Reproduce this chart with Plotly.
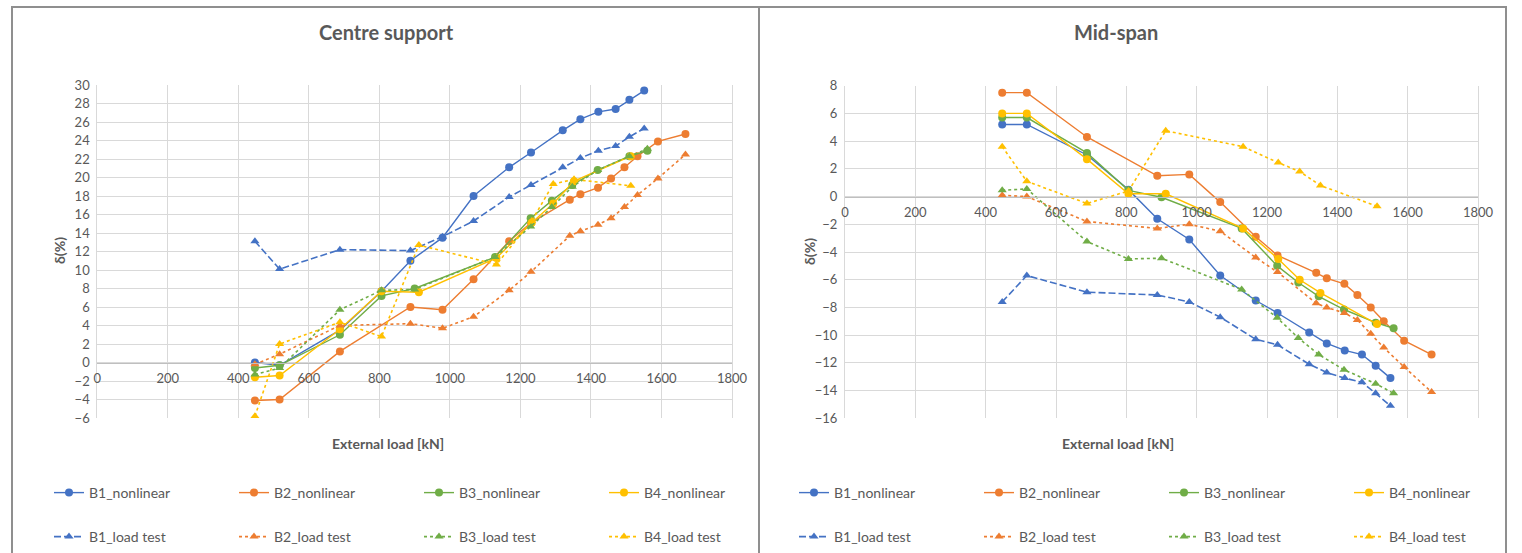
import plotly.graph_objects as go

# ---------------- data ----------------
# External load [kN] for each beam / series
b1_nl_load = [447, 517, 688, 806, 888, 979, 1067, 1168, 1230, 1320, 1370, 1421, 1470, 1509, 1551]
b1_lt_load = [447, 517, 688, 888, 979, 1067, 1168, 1230, 1320, 1370, 1421, 1470, 1509, 1551]
b2_load = [447, 517, 688, 888, 979, 1067, 1168, 1230, 1340, 1370, 1420, 1457, 1495, 1532, 1590, 1668]
b3_load = [447, 517, 688, 806, 900, 1128, 1229, 1289, 1347, 1419, 1509, 1560]
b4_load = [447, 517, 688, 806, 912, 1132, 1232, 1293, 1352, 1513]

# delta [%] at the centre support
b1_nl_support = [0.0, -0.3, 3.5, 7.7, 11.0, 13.5, 18.0, 21.1, 22.7, 25.1, 26.3, 27.1, 27.4, 28.4, 29.4]
b2_nl_support = [-4.1, -4.0, 1.2, 6.0, 5.7, 9.0, 13.1, 15.1, 17.6, 18.2, 18.9, 19.9, 21.1, 22.3, 23.9, 24.7]
b3_nl_support = [-0.6, -0.3, 3.0, 7.2, 8.0, 11.4, 15.6, 17.5, 19.2, 20.8, 22.3, 22.9]
b4_nl_support = [-1.6, -1.4, 3.6, 7.7, 7.6, 11.3, 15.1, 17.2, 19.6, 22.3]
b1_lt_support = [13.1, 10.1, 12.2, 12.1, 13.6, 15.3, 17.9, 19.2, 21.1, 22.1, 22.9, 23.4, 24.4, 25.3]
b2_lt_support = [-0.2, 0.9, 4.0, 4.2, 3.7, 4.95, 7.8, 9.8, 13.7, 14.2, 14.9, 15.6, 16.8, 18.1, 19.9, 22.5]
b3_lt_support = [-1.3, -0.6, 5.7, 7.8, 7.9, 11.4, 14.7, 16.8, 19.0, 20.8, 22.3, 23.1]
b4_lt_support = [-5.8, 2.0, 4.35, 2.8, 12.7, 10.6, 15.3, 19.3, 19.8, 19.1]

# delta [%] at mid-span
b1_nl_mid = [5.2, 5.2, 3.0, 0.5, -1.6, -3.1, -5.7, -7.5, -8.4, -9.8, -10.6, -11.1, -11.4, -12.2, -13.1]
b2_nl_mid = [7.5, 7.5, 4.3, 1.5, 1.6, -0.4, -2.9, -4.25, -5.5, -5.9, -6.3, -7.1, -8.0, -9.0, -10.4, -11.4]
b3_nl_mid = [5.7, 5.7, 3.15, 0.45, -0.05, -2.3, -5.0, -6.2, -7.2, -8.15, -9.1, -9.5]
b4_nl_mid = [6.0, 6.0, 2.7, 0.2, 0.2, -2.3, -4.5, -6.0, -6.95, -9.2]
b1_lt_mid = [-7.6, -5.7, -6.9, -7.1, -7.6, -8.7, -10.3, -10.7, -12.1, -12.7, -13.1, -13.4, -14.2, -15.1]
b2_lt_mid = [0.1, 0.0, -1.8, -2.3, -2.0, -2.5, -4.4, -5.45, -7.7, -8.0, -8.4, -8.9, -9.9, -10.9, -12.3, -14.1]
b3_lt_mid = [0.45, 0.55, -3.25, -4.5, -4.45, -6.7, -8.75, -10.2, -11.4, -12.5, -13.5, -14.2]
b4_lt_mid = [3.6, 1.1, -0.5, 0.4, 4.75, 3.6, 2.45, 1.8, 0.8, -0.7]

names = ["B1_nonlinear", "B2_nonlinear", "B3_nonlinear", "B4_nonlinear",
         "B1_load test", "B2_load test", "B3_load test", "B4_load test"]

# ---------------- styling ----------------
W, H = 1522, 553
FONT = "Lato"
TXT = "#595959"
GRID = "#d9d9d9"
colors = ["#4472C4", "#ED7D31", "#70AD47", "#FFC000"]


def px(x):
    return x / W


def py(y):
    return 1 - y / H


series = [
    (b1_nl_load, b1_nl_support, b1_nl_mid),
    (b2_load, b2_nl_support, b2_nl_mid),
    (b3_load, b3_nl_support, b3_nl_mid),
    (b4_load, b4_nl_support, b4_nl_mid),
    (b1_lt_load, b1_lt_support, b1_lt_mid),
    (b2_load, b2_lt_support, b2_lt_mid),
    (b3_load, b3_lt_support, b3_lt_mid),
    (b4_load, b4_lt_support, b4_lt_mid),
]

fig = go.Figure()

for panel in range(2):
    xa = "x" if panel == 0 else "x2"
    ya = "y" if panel == 0 else "y2"
    for i, (load, sup, mid) in enumerate(series):
        c = colors[i % 4]
        is_test = i >= 4
        if is_test:
            dash = "7px,3px" if i == 4 else "3px,3px"
            line = dict(color=c, width=1.6, dash=dash)
            marker = dict(symbol="triangle-up", size=8, color=c)
        else:
            line = dict(color=c, width=1.4)
            marker = dict(symbol="circle", size=8, color=c)
        legend_id = ("legend" if panel == 0 else "legend3") if not is_test else \
                    ("legend2" if panel == 0 else "legend4")
        fig.add_trace(go.Scatter(
            x=load, y=sup if panel == 0 else mid,
            mode="lines+markers", name=names[i],
            line=line, marker=marker,
            xaxis=xa, yaxis=ya, legend=legend_id,
        ))

# plot-area geometry (pixels)
left_x = (97.3, 732.0)
right_x = (845.0, 1478.0)
left_y = (85.0, 418.0)
right_y = (85.7, 418.3)
yr_left = (-6, 30)
yr_right = (-16, 8)


def zero_pos(ypix, yr):
    # paper position of the y = 0 line inside the plot area
    top, bottom = ypix
    frac = (0 - yr[0]) / (yr[1] - yr[0])
    return py(bottom) + frac * (py(top) - py(bottom))


axis_font = dict(family=FONT, size=13, color=TXT)
common_x = dict(range=[0, 1800], dtick=200, tick0=0, showgrid=True, gridcolor=GRID,
                gridwidth=1, zeroline=False, showline=True, linecolor="#bfbfbf",
                linewidth=1, ticks="", tickfont=axis_font, anchor="free",
                ticklabelstandoff=4)
common_y = dict(dtick=2, showgrid=True, gridcolor=GRID, gridwidth=1, zeroline=False,
                showline=True, linecolor=GRID, mirror=True, ticks="", tickfont=axis_font,
                ticklabelstandoff=4)

fig.update_layout(
    width=W, height=H,
    margin=dict(l=0, r=0, t=0, b=0, autoexpand=False),
    paper_bgcolor="white", plot_bgcolor="white",
    font=dict(family=FONT, color=TXT),
    xaxis=dict(domain=[px(left_x[0]), px(left_x[1])],
               position=zero_pos(left_y, yr_left), **common_x),
    yaxis=dict(domain=[py(left_y[1]), py(left_y[0])], range=list(yr_left),
               anchor="x", **common_y),
    xaxis2=dict(domain=[px(right_x[0]), px(right_x[1])],
                position=zero_pos(right_y, yr_right), **common_x),
    yaxis2=dict(domain=[py(right_y[1]), py(right_y[0])], range=list(yr_right),
                anchor="x2", **common_y),
    showlegend=True,
)

# four legend rows: nonlinear / load test for each panel
leg_common = dict(orientation="h", xanchor="left", yanchor="middle",
                  entrywidth=140, entrywidthmode="pixels", itemwidth=30,
                  font=dict(family=FONT, size=14, color=TXT),
                  bgcolor="rgba(0,0,0,0)", tracegroupgap=0)
fig.update_layout(
    legend=dict(x=px(49), y=py(493), **leg_common),
    legend2=dict(x=px(49), y=py(537), **leg_common),
    legend3=dict(x=px(794), y=py(493), **leg_common),
    legend4=dict(x=px(794), y=py(537), **leg_common),
)

# panel frames
frame = dict(type="rect", xref="paper", yref="paper",
             line=dict(color="#8f8f8f", width=2), fillcolor="rgba(0,0,0,0)", layer="above")
fig.add_shape(x0=px(12), x1=px(759), y0=py(7), y1=-0.1, **frame)
fig.add_shape(x0=px(759), x1=px(1506), y0=py(7), y1=-0.1, **frame)

# titles and axis titles
ann = []
title_font = dict(family=FONT, size=20, color=TXT)
axt_font = dict(family=FONT, size=14, color=TXT)
ann.append(dict(text="<b>Centre support</b>", x=px(386), y=py(32), font=title_font))
ann.append(dict(text="<b>Mid-span</b>", x=px(1116), y=py(32), font=title_font))
ann.append(dict(text="<b>External load [kN]</b>", x=px(388), y=py(443), font=axt_font))
ann.append(dict(text="<b>External load [kN]</b>", x=px(1118), y=py(443), font=axt_font))
ann.append(dict(text="<b>δ(%)</b>", x=px(60), y=py(251), textangle=-90, font=axt_font))
ann.append(dict(text="<b>δ(%)</b>", x=px(809), y=py(252), textangle=-90, font=axt_font))
for a in ann:
    a.update(xref="paper", yref="paper", showarrow=False, xanchor="center", yanchor="middle")
    fig.add_annotation(**a)

fig.write_html("out.html")
